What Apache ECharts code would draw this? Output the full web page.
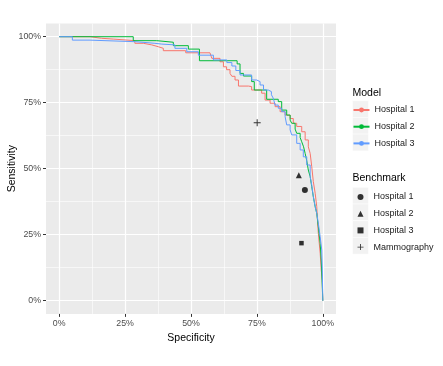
<!DOCTYPE html>
<html>
<head>
<meta charset="utf-8">
<script src="https://cdn.jsdelivr.net/npm/echarts@6/dist/echarts.min.js"></script>
<style>
html, body { margin: 0; padding: 0; background: #fff; }
#chart { width: 443px; height: 366px; }
</style>
</head>
<body>
<div id="chart"></div>
<script>
// tick positions (proportions)
var majorTicks = [0, 0.25, 0.5, 0.75, 1];
var minorTicks = [0.125, 0.375, 0.625, 0.875];

var modelNames = ['Hospital 1', 'Hospital 2', 'Hospital 3'];
var modelColors = ['#F8766D', '#00BA38', '#619CFF'];

// ROC curves, [specificity, sensitivity]
var rocHospital1 = [[0, 1], [0.117, 0.994], [0.161, 0.991], [0.205, 0.985], [0.287, 0.975], [0.319, 0.969],
    [0.351, 0.962], [0.376, 0.956], [0.395, 0.947], [0.48, 0.939], [0.572, 0.934], [0.579, 0.918],
    [0.61, 0.905], [0.623, 0.886], [0.635, 0.875], [0.648, 0.861], [0.655, 0.85], [0.667, 0.836],
    [0.68, 0.813], [0.718, 0.811], [0.73, 0.798], [0.768, 0.786], [0.781, 0.76], [0.8, 0.748],
    [0.819, 0.735], [0.838, 0.716], [0.857, 0.703], [0.876, 0.69], [0.888, 0.672], [0.901, 0.66],
    [0.92, 0.64], [0.933, 0.609], [0.945, 0.583], [0.952, 0.558], [0.958, 0.508], [0.964, 0.451],
    [0.971, 0.407], [0.977, 0.356], [0.98, 0.3], [0.983, 0.255], [0.99, 0.18], [0.994, 0.116],
    [0.998, 0.078], [1, 0]];
var rocHospital2 = [[0, 1], [0.281, 0.985], [0.37, 0.979], [0.433, 0.966], [0.49, 0.953], [0.532, 0.909],
    [0.675, 0.897], [0.686, 0.861], [0.699, 0.851], [0.73, 0.83], [0.74, 0.798], [0.787, 0.763],
    [0.831, 0.754], [0.844, 0.722], [0.863, 0.703], [0.876, 0.684], [0.882, 0.672], [0.895, 0.65],
    [0.901, 0.634], [0.914, 0.618], [0.92, 0.602], [0.927, 0.583], [0.933, 0.558], [0.939, 0.53],
    [0.945, 0.495], [0.952, 0.47], [0.958, 0.432], [0.964, 0.394], [0.971, 0.356], [0.977, 0.331],
    [0.983, 0.28], [0.99, 0.217], [0.994, 0.154], [0.997, 0.078], [1, 0]];
var rocHospital3 = [[0, 1], [0.05, 0.987], [0.117, 0.981], [0.29, 0.975], [0.363, 0.972], [0.389, 0.969],
    [0.439, 0.956], [0.484, 0.943], [0.528, 0.93], [0.585, 0.912], [0.636, 0.902], [0.655, 0.889],
    [0.67, 0.872], [0.686, 0.855], [0.73, 0.836], [0.749, 0.83], [0.762, 0.817], [0.775, 0.798],
    [0.793, 0.792], [0.805, 0.78], [0.812, 0.767], [0.819, 0.741], [0.831, 0.729], [0.844, 0.716],
    [0.857, 0.697], [0.863, 0.666], [0.876, 0.647], [0.882, 0.628], [0.901, 0.596], [0.914, 0.571],
    [0.926, 0.545], [0.939, 0.514], [0.952, 0.47], [0.958, 0.438], [0.964, 0.394], [0.971, 0.356],
    [0.977, 0.331], [0.983, 0.293], [0.99, 0.242], [0.996, 0.192], [0.998, 0.116], [1, 0]];
var rocData = [rocHospital1, rocHospital2, rocHospital3];

// benchmark points
var benchNames = ['Hospital 1', 'Hospital 2', 'Hospital 3', 'Mammography'];
var benchSpec = [0.932, 0.909, 0.919, 0.751];
var benchSens = [0.419, 0.475, 0.218, 0.674];
var benchSymbols = ['circle', 'triangle', 'rect',
    'path://M4.3,0H5.7V4.3H10V5.7H5.7V10H4.3V5.7H0V4.3H4.3Z'];
var benchSizes = [6, 6, 4.5, 7];

var chart = echarts.init(document.getElementById('chart'));

function pct(v) {
    return Math.round(v * 100) + '%';
}

function makeAxis(isX, major) {
    var ax = {
        type: 'value',
        min: -0.05,
        max: 1.05,
        axisLine: { show: false, onZero: false },
        axisTick: {
            show: major,
            customValues: major ? majorTicks : minorTicks,
            length: 3,
            lineStyle: { color: '#333333', width: 1 }
        },
        axisLabel: {
            show: major,
            customValues: majorTicks,
            formatter: pct,
            color: '#4D4D4D',
            fontSize: 8.8,
            margin: 5
        },
        splitLine: {
            show: true,
            lineStyle: { color: '#FFFFFF', width: major ? 1.2 : 0.6 }
        }
    };
    if (major) {
        ax.name = isX ? 'Specificity' : 'Sensitivity';
        ax.nameLocation = 'middle';
        ax.nameGap = isX ? 17 : 28;
        ax.nameTextStyle = { fontSize: 10.5, color: '#000000' };
        ax.position = isX ? 'bottom' : 'left';
        if (!isX) {
            ax.nameMoveOverlap = false;
        }
    }
    return ax;
}

var series = [];
rocData.forEach(function (d, i) {
    series.push({
        name: modelNames[i],
        type: 'line',
        data: d,
        step: 'end',
        symbol: 'circle',
        showSymbol: false,
        color: modelColors[i],
        lineStyle: { width: 1, color: modelColors[i] },
        emphasis: { disabled: true },
        z: 3
    });
});
benchNames.forEach(function (n, i) {
    series.push({
        name: 'b' + i,
        type: 'scatter',
        data: [[benchSpec[i], benchSens[i]]],
        symbol: benchSymbols[i],
        symbolSize: benchSizes[i],
        symbolKeepAspect: true,
        itemStyle: { color: '#000000' },
        emphasis: { disabled: true },
        z: 4
    });
});

var keyBoxes = [];
[100.7, 117.4, 134.1, 187.3, 204, 220.7, 237.4].forEach(function (y) {
    keyBoxes.push({
        type: 'rect',
        shape: { x: 352.5, y: y, width: 16, height: 16.7 },
        style: { fill: '#F2F2F2', stroke: '#FFFFFF', lineWidth: 0.5 },
        z: -1
    });
});

var option = {
    animation: false,
    textStyle: { fontFamily: 'Liberation Sans, Arial, sans-serif' },
    grid: {
        left: 46, top: 23.5, width: 290, height: 290.4,
        show: true, backgroundColor: '#EBEBEB', borderWidth: 0,
        containLabel: false,
        outerBoundsMode: 'none'
    },
    xAxis: [makeAxis(true, true), makeAxis(true, false)],
    yAxis: [makeAxis(false, true), makeAxis(false, false)],
    title: [
        { text: 'Model', left: 352.5, top: 87.3, padding: 0,
          textStyle: { fontSize: 10.5, fontWeight: 'normal', color: '#000000' } },
        { text: 'Benchmark', left: 352.5, top: 173, padding: 0,
          textStyle: { fontSize: 10.5, fontWeight: 'normal', color: '#000000' } }
    ],
    legend: [
        {
            orient: 'vertical', left: 352.5, top: 104.5, padding: 0,
            itemWidth: 16, itemHeight: 6, itemGap: 5.7,
            data: modelNames,
            selectedMode: false,
            textStyle: { fontSize: 9, color: '#1A1A1A', lineHeight: 11 }
        },
        {
            orient: 'vertical', left: 357.5, top: 191.5, padding: 0,
            itemWidth: 6, itemHeight: 6, itemGap: 5.7,
            data: benchNames.map(function (n, i) { return 'b' + i; }),
            formatter: function (n) { return benchNames[+n.slice(1)]; },
            selectedMode: false,
            textStyle: { fontSize: 9, color: '#1A1A1A', lineHeight: 11, padding: [0, 0, 0, 5] }
        }
    ],
    graphic: keyBoxes,
    series: series
};

chart.setOption(option);
</script>
</body>
</html>
